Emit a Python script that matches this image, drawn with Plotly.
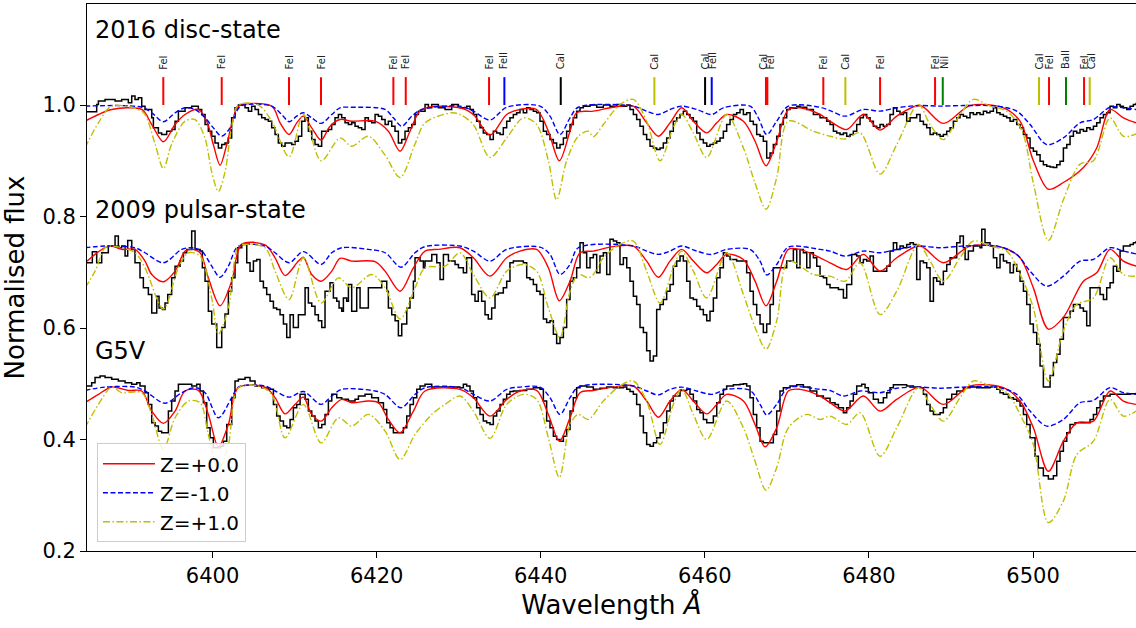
import plotly.graph_objects as go

# ---------------- line identifications ----------------
line_wl = [6394.00, 6401.12, 6409.32, 6413.22, 6422.04, 6423.55, 6433.70, 6435.57,
           6442.44, 6453.85, 6460.03, 6460.84, 6467.45, 6467.62, 6474.44, 6477.13,
           6481.36, 6488.06, 6489.00, 6500.73, 6501.95, 6504.02, 6506.22, 6506.91]
line_color = ["#ff0000", "#ff0000", "#ff0000", "#ff0000", "#ff0000", "#ff0000", "#ff0000", "#0000ff",
              "#000000", "#bfbf00", "#000000", "#0000ff", "#ff0000", "#ff0000", "#ff0000", "#bfbf00",
              "#ff0000", "#ff0000", "#008000", "#bfbf00", "#ff0000", "#008000", "#ff0000", "#bfbf00"]
label_wl = [6394.00, 6401.12, 6409.32, 6413.22, 6422.04, 6423.55, 6433.70, 6435.57,
            6442.44, 6453.85, 6460.03, 6461.04, 6467.13, 6467.95, 6474.44, 6477.13,
            6481.36, 6488.06, 6489.28, 6500.73, 6501.95, 6504.02, 6506.22, 6507.16]
label_text = ["FeI", "FeI", "FeI", "FeI", "FeI", "FeI", "FeI", "FeII",
              "CaI", "CaI", "CaI", "FeII", "CaI", "FeI", "FeI", "CaI",
              "FeI", "FeI", "NiI", "CaI", "FeI", "BaII", "FeI", "CaI"]
line_bottom = 1.0
line_top = 1.05
label_y = 1.062

# ---------------- spectrum titles ----------------
panel_names = ["2016 disc-state", "2009 pulsar-state", "G5V"]
panel_label_y = [1.134, 0.812, 0.559]

# ---------------- observed spectra (step) ----------------
disc_obs = [
    (6384.70, 0.988), (6385.88, 1.001), (6386.09, 1.007), (6386.90, 1.010), (6388.12, 1.007), (6388.93, 1.010),
    (6389.74, 1.004), (6390.15, 1.016), (6390.55, 1.010), (6390.96, 1.013), (6391.37, 0.998), (6391.77, 0.992),
    (6392.59, 0.977), (6392.79, 0.959), (6393.40, 0.950), (6393.80, 0.947), (6394.41, 0.953), (6395.02, 0.956),
    (6395.43, 0.971), (6395.84, 0.989), (6396.65, 0.995), (6397.46, 0.998), (6398.27, 0.992), (6398.68, 0.983),
    (6399.09, 0.965), (6399.49, 0.953), (6399.90, 0.944), (6400.30, 0.932), (6400.71, 0.923), (6401.12, 0.929),
    (6401.52, 0.932), (6401.93, 0.941), (6402.33, 0.977), (6402.74, 0.995), (6403.15, 1.000), (6403.55, 1.001),
    (6403.96, 0.995), (6404.37, 0.989), (6404.77, 0.998), (6405.18, 0.992), (6405.59, 0.983), (6405.99, 0.977),
    (6406.40, 0.974), (6406.80, 0.971), (6407.21, 0.959), (6407.62, 0.947), (6408.02, 0.932), (6408.43, 0.926),
    (6408.84, 0.932), (6409.65, 0.929), (6410.05, 0.935), (6410.46, 0.944), (6410.87, 0.971), (6411.27, 0.977),
    (6411.68, 0.953), (6412.09, 0.938), (6412.49, 0.929), (6412.90, 0.926), (6413.30, 0.953), (6414.12, 0.956),
    (6414.52, 0.965), (6414.93, 0.977), (6415.34, 0.983), (6415.74, 0.977), (6416.15, 0.968), (6416.56, 0.965),
    (6416.96, 0.968), (6417.37, 0.962), (6417.77, 0.959), (6418.18, 0.956), (6418.59, 0.977), (6418.99, 0.971),
    (6419.40, 0.968), (6419.81, 0.983), (6420.21, 0.980), (6420.62, 0.974), (6421.03, 0.965), (6421.43, 0.971),
    (6421.84, 0.962), (6422.24, 0.953), (6422.65, 0.932), (6423.06, 0.938), (6423.46, 0.953), (6423.87, 0.959),
    (6424.28, 0.965), (6424.68, 0.983), (6425.09, 0.989), (6425.90, 1.001), (6426.31, 0.995), (6426.71, 1.001),
    (6427.52, 0.995), (6428.34, 0.992), (6429.15, 1.001), (6429.96, 0.996),
    (6430.16, 0.995), (6430.97, 0.998), (6431.38, 0.992), (6431.79, 0.983), (6432.19, 0.971), (6432.60, 0.959),
    (6433.00, 0.950), (6433.41, 0.947), (6433.82, 0.938), (6434.22, 0.953), (6434.63, 0.950), (6435.04, 0.947),
    (6435.44, 0.959), (6435.85, 0.971), (6436.25, 0.977), (6436.66, 0.983), (6437.07, 0.986), (6437.47, 0.992),
    (6437.88, 0.986), (6438.29, 0.995), (6438.69, 0.992), (6439.10, 0.989), (6439.50, 0.986), (6439.91, 0.971),
    (6440.32, 0.953), (6440.72, 0.947), (6441.13, 0.938), (6441.54, 0.932), (6441.94, 0.923), (6442.35, 0.929),
    (6442.76, 0.941), (6443.16, 0.953), (6443.57, 0.965), (6443.97, 0.977), (6444.38, 0.989), (6444.79, 0.995),
    (6445.19, 0.998), (6446.01, 1.000), (6446.82, 0.996), (6447.63, 1.000), (6448.44, 0.998), (6449.26, 1.001),
    (6449.66, 0.998), (6450.48, 1.000), (6450.88, 0.992), (6451.29, 0.983), (6451.69, 0.974), (6452.10, 0.962),
    (6452.51, 0.947), (6452.91, 0.938), (6453.32, 0.926), (6453.73, 0.923), (6454.13, 0.920), (6454.54, 0.923),
    (6454.94, 0.932), (6455.35, 0.941), (6455.76, 0.953), (6456.16, 0.971), (6456.57, 0.977), (6456.98, 0.983),
    (6457.38, 0.989), (6457.79, 0.983), (6458.19, 0.977), (6458.60, 0.971), (6459.01, 0.950), (6459.41, 0.938),
    (6459.82, 0.932), (6460.23, 0.926), (6460.63, 0.929), (6461.04, 0.932), (6461.45, 0.935), (6461.85, 0.941),
    (6462.26, 0.953), (6462.66, 0.965), (6463.07, 0.974), (6463.48, 0.983), (6463.88, 0.986), (6464.29, 0.992),
    (6464.70, 0.983), (6465.10, 0.986), (6465.51, 0.971), (6465.91, 0.965), (6466.32, 0.947), (6466.73, 0.944),
    (6467.13, 0.935), (6467.54, 0.905), (6467.95, 0.914), (6468.35, 0.929), (6468.76, 0.944), (6469.16, 0.965),
    (6469.57, 0.977), (6469.98, 0.992), (6470.38, 0.995), (6470.79, 0.994), (6471.20, 0.998), (6471.60, 0.996),
    (6472.42, 0.992), (6473.23, 0.983), (6474.04, 0.977), (6474.85, 0.971),
    (6475.26, 0.965), (6475.67, 0.953), (6476.07, 0.950), (6476.48, 0.947), (6476.89, 0.950), (6477.29, 0.944),
    (6477.70, 0.947), (6478.10, 0.953), (6478.51, 0.965), (6478.92, 0.977), (6479.32, 0.983), (6479.73, 0.977),
    (6480.14, 0.971), (6480.54, 0.962), (6480.95, 0.959), (6481.35, 0.965), (6481.76, 0.962), (6482.17, 0.965),
    (6482.57, 0.983), (6482.98, 0.995), (6483.39, 0.989), (6483.79, 0.983), (6484.20, 0.986), (6484.60, 0.971),
    (6485.01, 0.977), (6485.82, 0.983), (6486.23, 0.971), (6486.64, 0.965), (6487.04, 0.959), (6487.45, 0.947),
    (6487.85, 0.950), (6488.26, 0.947), (6488.67, 0.944), (6489.07, 0.947), (6489.48, 0.953), (6489.89, 0.959),
    (6490.29, 0.971), (6490.70, 0.977), (6491.10, 0.983), (6491.51, 0.980), (6491.92, 0.977), (6492.32, 0.986),
    (6492.73, 0.983), (6493.14, 0.986), (6493.54, 0.983), (6493.95, 0.989), (6494.36, 0.986), (6494.76, 0.989),
    (6495.17, 0.995), (6495.57, 0.986), (6495.98, 0.983), (6496.39, 0.980), (6496.79, 0.977), (6497.20, 0.971),
    (6497.61, 0.974), (6498.01, 0.965), (6498.42, 0.959), (6498.83, 0.947), (6499.23, 0.941), (6499.64, 0.923),
    (6500.04, 0.917), (6500.45, 0.911), (6500.86, 0.899), (6501.26, 0.893), (6501.67, 0.890), (6502.08, 0.889),
    (6502.48, 0.888), (6502.89, 0.893), (6503.29, 0.899), (6503.70, 0.923), (6504.11, 0.929), (6504.51, 0.944),
    (6504.92, 0.953), (6505.33, 0.950), (6505.73, 0.956), (6506.14, 0.953), (6506.54, 0.959), (6506.95, 0.956),
    (6507.36, 0.962), (6507.76, 0.968), (6508.17, 0.977), (6508.58, 0.983), (6508.98, 0.986), (6509.39, 0.998),
    (6509.79, 0.995), (6510.20, 1.001), (6510.61, 0.998), (6511.01, 0.995), (6511.42, 0.992), (6511.83, 0.998),
    (6512.23, 1.001), (6512.56, 1.004),
]

pulsar_obs = [
    (6384.70, 0.717), (6385.35, 0.737), (6385.88, 0.717), (6386.49, 0.735), (6387.30, 0.747), (6388.12, 0.765),
    (6388.52, 0.744), (6388.93, 0.747), (6389.34, 0.729), (6389.66, 0.757), (6390.15, 0.741), (6390.55, 0.717),
    (6391.16, 0.690), (6391.57, 0.672), (6392.18, 0.660), (6392.59, 0.627), (6393.20, 0.657), (6393.48, 0.636),
    (6393.89, 0.633), (6394.21, 0.645), (6394.54, 0.660), (6395.02, 0.690), (6395.43, 0.711), (6396.04, 0.720),
    (6396.45, 0.735), (6396.85, 0.741), (6397.46, 0.774), (6397.87, 0.741), (6398.48, 0.738), (6398.76, 0.708),
    (6399.09, 0.684), (6399.49, 0.630), (6399.90, 0.607), (6400.51, 0.565), (6401.12, 0.601), (6401.52, 0.625),
    (6401.93, 0.666), (6402.33, 0.690), (6402.74, 0.717), (6403.07, 0.744), (6403.56, 0.750), (6404.17, 0.717),
    (6404.57, 0.702), (6404.98, 0.720), (6405.38, 0.723), (6405.79, 0.684), (6406.20, 0.672), (6406.60, 0.660),
    (6407.01, 0.648), (6407.42, 0.636), (6407.82, 0.633), (6408.23, 0.624), (6408.64, 0.607), (6409.04, 0.583),
    (6409.45, 0.624), (6409.85, 0.601), (6410.46, 0.624), (6411.28, 0.672), (6411.68, 0.645), (6412.09, 0.639),
    (6412.49, 0.624), (6412.90, 0.613), (6413.31, 0.601), (6413.71, 0.666), (6414.32, 0.681), (6414.73, 0.654),
    (6415.14, 0.648), (6415.42, 0.636), (6415.75, 0.630), (6415.95, 0.654), (6416.35, 0.648), (6416.56, 0.678),
    (6416.96, 0.630), (6417.57, 0.672), (6417.98, 0.636), (6418.99, 0.672), (6420.62, 0.684), (6421.23, 0.666),
    (6421.43, 0.636), (6421.84, 0.624), (6422.25, 0.613), (6422.65, 0.586), (6423.06, 0.607), (6423.67, 0.636),
    (6424.07, 0.654), (6424.48, 0.684), (6424.68, 0.726), (6425.29, 0.720), (6425.70, 0.708), (6425.90, 0.720),
    (6426.72, 0.732), (6427.33, 0.717), (6427.73, 0.687), (6428.14, 0.732), (6428.75, 0.720), (6429.56, 0.714),
    (6429.97, 0.708),
    (6430.16, 0.708), (6430.57, 0.699), (6430.97, 0.726), (6431.58, 0.660), (6431.99, 0.648), (6432.39, 0.666),
    (6432.80, 0.648), (6433.21, 0.624), (6433.61, 0.616), (6434.02, 0.636), (6434.43, 0.660), (6434.83, 0.663),
    (6435.44, 0.672), (6435.85, 0.684), (6436.25, 0.717), (6436.66, 0.720), (6437.88, 0.717), (6438.29, 0.690),
    (6438.69, 0.687), (6439.10, 0.678), (6439.50, 0.666), (6439.91, 0.660), (6440.32, 0.616), (6440.72, 0.610),
    (6441.13, 0.613), (6441.54, 0.589), (6441.94, 0.572), (6442.35, 0.583), (6442.76, 0.601), (6443.16, 0.651),
    (6443.57, 0.684), (6443.97, 0.690), (6444.38, 0.708), (6444.79, 0.753), (6445.19, 0.735), (6445.60, 0.708),
    (6446.01, 0.726), (6446.41, 0.732), (6446.82, 0.699), (6447.22, 0.729), (6447.63, 0.735), (6448.04, 0.696),
    (6448.44, 0.759), (6448.85, 0.756), (6449.26, 0.753), (6449.66, 0.714), (6450.07, 0.726), (6450.48, 0.708),
    (6450.88, 0.684), (6451.29, 0.657), (6451.69, 0.642), (6452.10, 0.601), (6452.51, 0.592), (6452.91, 0.559),
    (6453.32, 0.541), (6453.73, 0.550), (6454.13, 0.633), (6454.54, 0.642), (6454.94, 0.651), (6455.35, 0.666),
    (6455.76, 0.678), (6456.16, 0.711), (6456.57, 0.720), (6456.98, 0.729), (6457.38, 0.720), (6457.79, 0.684),
    (6458.19, 0.654), (6458.60, 0.651), (6459.01, 0.639), (6459.41, 0.633), (6459.82, 0.624), (6460.23, 0.613),
    (6460.63, 0.630), (6461.04, 0.654), (6461.45, 0.690), (6461.85, 0.708), (6462.26, 0.735), (6462.66, 0.729),
    (6463.07, 0.723), (6463.88, 0.720), (6465.10, 0.699), (6465.51, 0.666), (6465.91, 0.642), (6466.32, 0.624),
    (6466.73, 0.607), (6467.13, 0.592), (6467.54, 0.607), (6467.95, 0.642), (6468.35, 0.708), (6469.98, 0.720),
    (6470.79, 0.741), (6471.20, 0.708), (6471.60, 0.741), (6472.01, 0.735), (6472.42, 0.708), (6472.82, 0.735),
    (6473.23, 0.726), (6473.64, 0.711), (6474.04, 0.693), (6474.45, 0.690), (6474.85, 0.678),
    (6475.26, 0.672), (6476.28, 0.669), (6476.89, 0.654), (6477.29, 0.678), (6477.90, 0.732), (6478.51, 0.729),
    (6478.92, 0.717), (6479.32, 0.723), (6479.73, 0.720), (6480.14, 0.729), (6480.54, 0.702), (6482.17, 0.711),
    (6482.57, 0.738), (6482.98, 0.753), (6483.39, 0.741), (6483.79, 0.747), (6484.20, 0.744), (6484.60, 0.750),
    (6485.01, 0.753), (6485.42, 0.750), (6485.82, 0.687), (6486.23, 0.720), (6486.64, 0.717), (6487.04, 0.708),
    (6487.45, 0.648), (6487.86, 0.690), (6488.26, 0.684), (6488.67, 0.678), (6489.07, 0.702), (6489.48, 0.714),
    (6489.89, 0.726), (6490.70, 0.753), (6491.10, 0.765), (6491.51, 0.744), (6491.72, 0.723), (6492.12, 0.738),
    (6492.73, 0.747), (6493.54, 0.744), (6493.75, 0.777), (6494.15, 0.753), (6494.76, 0.747), (6495.17, 0.726),
    (6495.58, 0.708), (6495.98, 0.732), (6496.39, 0.720), (6496.79, 0.717), (6497.20, 0.699), (6497.61, 0.714),
    (6498.01, 0.702), (6498.42, 0.684), (6498.83, 0.666), (6499.23, 0.642), (6499.64, 0.607), (6500.04, 0.592),
    (6500.45, 0.571), (6500.86, 0.532), (6501.26, 0.494), (6502.08, 0.515), (6502.48, 0.538), (6502.89, 0.553),
    (6503.29, 0.580), (6503.70, 0.619), (6504.51, 0.630), (6504.92, 0.642), (6505.73, 0.636), (6506.14, 0.630),
    (6506.54, 0.604), (6506.95, 0.672), (6508.17, 0.660), (6508.58, 0.651), (6508.98, 0.672), (6509.39, 0.681),
    (6509.79, 0.711), (6510.20, 0.702), (6510.61, 0.738), (6511.01, 0.747), (6511.83, 0.750), (6512.23, 0.753),
    (6512.56, 0.756),
]

g5v_obs = [
    (6384.70, 0.496), (6385.27, 0.502), (6385.68, 0.511), (6386.29, 0.514), (6386.90, 0.511), (6387.71, 0.508),
    (6388.52, 0.505), (6389.34, 0.502), (6390.15, 0.499), (6390.76, 0.502), (6391.16, 0.496), (6391.77, 0.484),
    (6392.18, 0.463), (6392.59, 0.430), (6392.99, 0.424), (6393.40, 0.415), (6393.80, 0.412), (6394.62, 0.451),
    (6395.02, 0.469), (6395.43, 0.487), (6395.84, 0.499), (6397.46, 0.496), (6398.07, 0.499), (6398.48, 0.487),
    (6398.88, 0.466), (6399.29, 0.421), (6399.70, 0.403), (6400.10, 0.385), (6400.92, 0.388), (6401.32, 0.397),
    (6401.73, 0.427), (6402.34, 0.475), (6402.74, 0.505), (6403.15, 0.508), (6403.96, 0.511), (6404.57, 0.505),
    (6405.18, 0.496), (6405.99, 0.493), (6406.81, 0.490), (6407.42, 0.463), (6407.82, 0.442), (6408.23, 0.433),
    (6408.64, 0.424), (6409.04, 0.421), (6409.45, 0.436), (6409.85, 0.457), (6410.26, 0.463), (6410.67, 0.481),
    (6411.28, 0.472), (6411.68, 0.451), (6412.09, 0.442), (6412.49, 0.433), (6412.90, 0.421), (6413.31, 0.427),
    (6413.71, 0.445), (6414.12, 0.469), (6414.53, 0.481), (6415.14, 0.475), (6415.75, 0.472), (6416.56, 0.469),
    (6417.37, 0.472), (6417.78, 0.478), (6418.59, 0.481), (6419.40, 0.475), (6420.22, 0.466), (6420.83, 0.454),
    (6421.23, 0.430), (6421.64, 0.421), (6422.04, 0.412), (6423.26, 0.421), (6423.67, 0.442), (6424.07, 0.463),
    (6424.48, 0.475), (6424.89, 0.490), (6425.29, 0.496), (6425.90, 0.499), (6426.72, 0.494),
    (6430.16, 0.493), (6430.57, 0.499), (6430.97, 0.496), (6431.38, 0.487), (6431.79, 0.475), (6432.19, 0.457),
    (6432.60, 0.445), (6433.00, 0.433), (6433.41, 0.430), (6433.82, 0.427), (6434.22, 0.442), (6434.63, 0.451),
    (6435.04, 0.463), (6435.44, 0.472), (6435.85, 0.481), (6436.25, 0.486), (6436.66, 0.487), (6437.47, 0.488),
    (6438.29, 0.490), (6439.10, 0.493), (6439.91, 0.490), (6440.32, 0.469), (6440.72, 0.433), (6441.13, 0.421),
    (6441.54, 0.406), (6441.94, 0.400), (6442.35, 0.397), (6442.76, 0.406), (6443.16, 0.418), (6443.57, 0.451),
    (6443.97, 0.475), (6444.38, 0.493), (6444.79, 0.496), (6445.60, 0.494), (6446.41, 0.490), (6447.22, 0.492),
    (6448.04, 0.494), (6448.85, 0.493), (6450.07, 0.494), (6450.48, 0.490), (6450.88, 0.486), (6451.29, 0.481),
    (6451.69, 0.463), (6452.10, 0.442), (6452.51, 0.412), (6452.91, 0.391), (6453.32, 0.388), (6453.73, 0.394),
    (6454.13, 0.403), (6454.54, 0.412), (6454.94, 0.430), (6455.35, 0.451), (6455.76, 0.469), (6456.16, 0.478),
    (6456.98, 0.488), (6457.79, 0.490), (6458.19, 0.481), (6458.60, 0.469), (6459.01, 0.454), (6459.41, 0.448),
    (6459.82, 0.436), (6460.23, 0.430), (6461.04, 0.442), (6461.45, 0.466), (6461.85, 0.481), (6462.26, 0.490),
    (6462.66, 0.496), (6463.48, 0.498), (6464.29, 0.499), (6464.70, 0.500), (6465.10, 0.496), (6465.51, 0.475),
    (6465.91, 0.445), (6466.32, 0.421), (6466.73, 0.397), (6467.13, 0.394), (6468.35, 0.409), (6468.76, 0.451),
    (6469.16, 0.487), (6469.57, 0.493), (6470.38, 0.496), (6471.20, 0.498), (6472.01, 0.494), (6472.82, 0.487),
    (6473.64, 0.478), (6474.45, 0.474),
    (6475.26, 0.466), (6475.87, 0.463), (6476.28, 0.457), (6476.89, 0.448), (6477.29, 0.457), (6477.70, 0.469),
    (6478.10, 0.481), (6478.51, 0.496), (6479.12, 0.499), (6479.53, 0.493), (6479.93, 0.484), (6480.54, 0.472),
    (6481.15, 0.466), (6481.76, 0.475), (6482.17, 0.484), (6482.57, 0.493), (6482.98, 0.498), (6484.60, 0.496),
    (6485.42, 0.494), (6486.23, 0.493), (6486.64, 0.481), (6487.04, 0.463), (6487.45, 0.451), (6487.86, 0.445),
    (6488.67, 0.448), (6489.07, 0.457), (6489.48, 0.472), (6490.09, 0.481), (6490.70, 0.487), (6491.51, 0.493),
    (6492.32, 0.494), (6493.14, 0.493), (6494.76, 0.494), (6495.58, 0.490), (6495.98, 0.484), (6496.39, 0.481),
    (6497.00, 0.475), (6497.61, 0.472), (6498.01, 0.469), (6498.42, 0.460), (6498.83, 0.445), (6499.23, 0.427),
    (6499.64, 0.403), (6500.25, 0.370), (6500.65, 0.349), (6501.26, 0.335), (6501.87, 0.329), (6502.48, 0.335),
    (6502.89, 0.361), (6503.29, 0.379), (6503.70, 0.397), (6504.11, 0.412), (6504.51, 0.427), (6505.12, 0.430),
    (6506.95, 0.436), (6507.36, 0.445), (6507.76, 0.457), (6508.17, 0.469), (6508.58, 0.478), (6509.39, 0.481),
    (6511.83, 0.482), (6512.56, 0.484),
]

# ---------------- model spectra (smooth) ----------------
disc_z0 = [
    (6384.46, 0.971), (6386.09, 0.983), (6387.71, 0.992), (6391.37, 0.992), (6392.59, 0.965), (6394.01, 0.934),
    (6395.43, 0.965), (6396.65, 0.983), (6398.27, 0.992), (6399.29, 0.971), (6400.10, 0.929), (6400.92, 0.892),
    (6401.73, 0.929), (6402.54, 0.977), (6403.15, 0.998), (6407.21, 0.998), (6408.23, 0.968), (6409.33, 0.947),
    (6410.26, 0.968), (6411.07, 0.980), (6412.09, 0.959), (6413.23, 0.937), (6414.32, 0.962), (6415.54, 0.974),
    (6416.96, 0.971), (6419.81, 0.971), (6421.43, 0.953), (6422.86, 0.917), (6424.07, 0.953), (6425.50, 0.992),
    (6430.16, 0.995), (6431.79, 0.983), (6433.82, 0.946), (6435.85, 0.983), (6437.47, 0.992), (6439.50, 0.992),
    (6440.93, 0.953), (6442.27, 0.900), (6443.57, 0.953), (6444.38, 0.986), (6446.41, 0.989), (6448.85, 0.996),
    (6451.29, 0.998), (6452.91, 0.968), (6454.33, 0.944), (6455.76, 0.968), (6457.18, 0.995), (6458.60, 0.971),
    (6460.23, 0.950), (6461.45, 0.968), (6462.66, 0.983), (6464.70, 0.971), (6466.12, 0.935), (6467.46, 0.891),
    (6468.76, 0.935), (6470.18, 0.992), (6471.60, 0.995), (6474.04, 0.983),
    (6475.26, 0.971), (6477.29, 0.956), (6479.32, 0.983), (6481.35, 0.955), (6483.39, 0.980), (6486.23, 0.999),
    (6489.07, 0.967), (6492.32, 0.999), (6496.39, 0.995), (6498.42, 0.971), (6500.04, 0.900), (6501.87, 0.849),
    (6503.70, 0.861), (6506.14, 0.888), (6507.76, 0.923), (6509.39, 0.992), (6511.01, 0.977), (6512.56, 0.968),
]
disc_zm1 = [
    (6384.46, 0.998), (6391.37, 0.996), (6392.59, 0.986), (6394.01, 0.970), (6395.43, 0.986), (6396.65, 0.995),
    (6397.87, 0.992), (6399.09, 0.977), (6400.10, 0.959), (6401.12, 0.944), (6402.13, 0.959), (6402.95, 0.989),
    (6403.55, 0.999), (6407.21, 0.998), (6408.43, 0.983), (6409.33, 0.970), (6410.26, 0.980), (6411.07, 0.986),
    (6412.09, 0.977), (6413.23, 0.967), (6414.53, 0.983), (6415.54, 0.995), (6416.96, 0.996), (6421.03, 0.992),
    (6422.04, 0.977), (6423.06, 0.962), (6424.28, 0.980), (6425.50, 0.992),
    (6430.16, 0.998), (6431.79, 0.989), (6433.82, 0.973), (6435.85, 0.996), (6439.91, 0.998), (6441.13, 0.980),
    (6442.35, 0.947), (6443.57, 0.977), (6444.58, 0.996), (6451.29, 0.998), (6452.91, 0.989), (6454.33, 0.983),
    (6455.76, 0.992), (6457.18, 0.998), (6459.01, 0.992), (6460.84, 0.983), (6462.26, 0.995), (6465.51, 0.998),
    (6466.52, 0.977), (6467.54, 0.947), (6468.76, 0.971), (6470.18, 0.998), (6474.04, 0.996),
    (6475.26, 0.990), (6477.09, 0.980), (6479.32, 0.992), (6481.35, 0.989), (6483.39, 0.995), (6486.03, 0.999),
    (6488.67, 0.998), (6491.51, 0.999), (6495.57, 0.998), (6498.01, 0.989), (6499.64, 0.965), (6501.67, 0.929),
    (6503.70, 0.941), (6505.73, 0.968), (6507.36, 0.974), (6509.39, 0.996), (6511.01, 0.995), (6512.56, 0.992),
]
disc_zp1 = [
    (6384.46, 0.923), (6386.09, 0.968), (6387.71, 0.998), (6390.96, 0.992), (6391.77, 0.983), (6393.00, 0.930),
    (6394.01, 0.886), (6395.02, 0.930), (6396.65, 0.971), (6397.87, 0.974), (6399.09, 0.940), (6399.90, 0.880),
    (6400.71, 0.845), (6401.52, 0.880), (6402.33, 0.960), (6403.15, 1.000), (6405.59, 1.000), (6407.21, 0.971),
    (6409.33, 0.907), (6411.07, 0.983), (6413.23, 0.900), (6415.54, 0.941), (6416.96, 0.926), (6418.99, 0.944),
    (6421.03, 0.910), (6422.86, 0.870), (6424.68, 0.930), (6425.90, 0.968), (6429.15, 0.986),
    (6430.16, 0.983), (6431.79, 0.965), (6433.82, 0.906), (6435.85, 0.941), (6437.88, 0.977), (6439.50, 0.965),
    (6440.93, 0.900), (6441.94, 0.830), (6443.16, 0.900), (6444.58, 0.944), (6445.80, 0.953), (6446.41, 0.943),
    (6447.63, 0.965), (6449.66, 1.001), (6451.29, 1.010), (6452.91, 0.971), (6454.54, 0.900), (6456.16, 0.960),
    (6457.18, 0.983), (6458.60, 0.950), (6460.23, 0.906), (6462.66, 0.983), (6464.70, 0.923), (6466.12, 0.860),
    (6467.46, 0.813), (6468.76, 0.870), (6470.18, 0.971), (6473.23, 0.953),
    (6475.26, 0.944), (6477.09, 0.939), (6478.92, 0.950), (6481.35, 0.876), (6483.39, 0.929), (6486.03, 1.001),
    (6487.45, 0.965), (6489.07, 0.938), (6491.10, 0.983), (6492.73, 1.010), (6494.76, 0.998), (6496.79, 0.989),
    (6498.62, 0.955), (6500.04, 0.860), (6501.87, 0.757), (6503.70, 0.830), (6505.73, 0.894), (6507.36, 0.900),
    (6509.39, 0.977), (6511.01, 0.944), (6512.56, 0.948),
]

pulsar_z0 = [
    (6384.46, 0.717), (6385.68, 0.732), (6386.90, 0.744), (6387.71, 0.747), (6388.93, 0.741), (6390.55, 0.741),
    (6391.77, 0.720), (6392.59, 0.696), (6394.01, 0.683), (6395.43, 0.702), (6396.65, 0.738), (6397.46, 0.741),
    (6398.48, 0.735), (6399.49, 0.690), (6400.92, 0.640), (6402.34, 0.684), (6403.56, 0.750), (6406.40, 0.749),
    (6407.62, 0.726), (6408.84, 0.694), (6410.46, 0.720), (6411.07, 0.727), (6412.09, 0.696), (6413.23, 0.684),
    (6414.53, 0.702), (6415.54, 0.725), (6416.96, 0.720), (6419.81, 0.719), (6421.03, 0.702), (6422.86, 0.666),
    (6424.48, 0.708), (6425.90, 0.738), (6427.53, 0.741),
    (6430.16, 0.744), (6431.79, 0.726), (6433.82, 0.693), (6435.85, 0.726), (6437.47, 0.738), (6439.50, 0.741),
    (6440.93, 0.708), (6442.27, 0.649), (6443.57, 0.684), (6444.79, 0.735), (6446.41, 0.738), (6448.85, 0.746),
    (6451.29, 0.747), (6452.91, 0.720), (6454.33, 0.691), (6455.76, 0.720), (6457.18, 0.741), (6458.60, 0.720),
    (6460.23, 0.699), (6461.45, 0.714), (6462.66, 0.732), (6464.70, 0.723), (6466.12, 0.684), (6467.46, 0.640),
    (6468.76, 0.684), (6470.18, 0.741), (6471.60, 0.741), (6474.04, 0.726),
    (6475.26, 0.717), (6477.29, 0.705), (6479.32, 0.732), (6481.35, 0.702), (6483.39, 0.726), (6486.23, 0.747),
    (6489.07, 0.717), (6492.32, 0.747), (6496.39, 0.744), (6498.42, 0.726), (6500.04, 0.672), (6501.87, 0.598),
    (6503.70, 0.619), (6506.14, 0.684), (6507.76, 0.699), (6509.39, 0.741), (6511.01, 0.720), (6512.56, 0.711),
]
pulsar_zm1 = [
    (6384.46, 0.744), (6386.90, 0.747), (6390.55, 0.744), (6391.77, 0.735), (6394.01, 0.717), (6396.24, 0.741),
    (6397.46, 0.744), (6398.68, 0.738), (6399.90, 0.711), (6400.92, 0.691), (6401.93, 0.711), (6403.15, 0.747),
    (6406.40, 0.747), (6407.62, 0.735), (6409.33, 0.717), (6411.07, 0.737), (6413.23, 0.714), (6414.53, 0.735),
    (6415.75, 0.744), (6419.00, 0.741), (6421.03, 0.735), (6422.98, 0.709), (6424.68, 0.735), (6425.90, 0.746),
    (6430.16, 0.747), (6431.79, 0.738), (6433.82, 0.720), (6435.85, 0.741), (6439.91, 0.745), (6441.13, 0.732),
    (6442.35, 0.696), (6443.57, 0.714), (6444.58, 0.744), (6451.29, 0.747), (6452.91, 0.738), (6454.33, 0.732),
    (6455.76, 0.738), (6457.18, 0.747), (6459.01, 0.738), (6460.84, 0.732), (6462.66, 0.741), (6465.51, 0.741),
    (6466.73, 0.720), (6467.54, 0.695), (6468.76, 0.714), (6470.18, 0.745), (6474.04, 0.741),
    (6475.26, 0.738), (6477.09, 0.729), (6479.32, 0.738), (6481.35, 0.735), (6483.39, 0.741), (6486.03, 0.747),
    (6488.67, 0.744), (6491.51, 0.747), (6495.58, 0.747), (6498.01, 0.732), (6499.64, 0.702), (6501.67, 0.675),
    (6503.70, 0.693), (6505.73, 0.720), (6507.36, 0.723), (6509.39, 0.744), (6511.01, 0.738), (6512.56, 0.733),
]
pulsar_zp1 = [
    (6384.46, 0.672), (6385.68, 0.702), (6386.90, 0.744), (6387.71, 0.747), (6390.55, 0.735), (6391.77, 0.708),
    (6394.01, 0.634), (6395.84, 0.708), (6397.06, 0.735), (6398.48, 0.729), (6399.90, 0.654), (6400.71, 0.589),
    (6401.93, 0.636), (6403.15, 0.747), (6403.96, 0.750), (6406.40, 0.744), (6407.62, 0.702), (6409.33, 0.651),
    (6411.07, 0.726), (6413.23, 0.645), (6415.34, 0.690), (6416.96, 0.672), (6419.40, 0.696), (6421.03, 0.672),
    (6422.86, 0.616), (6424.68, 0.672), (6425.90, 0.708), (6428.34, 0.711),
    (6430.16, 0.735), (6431.79, 0.696), (6433.82, 0.654), (6435.85, 0.702), (6437.88, 0.714), (6439.50, 0.702),
    (6440.93, 0.636), (6442.35, 0.583), (6443.57, 0.666), (6444.58, 0.696), (6445.80, 0.690), (6446.41, 0.696),
    (6447.63, 0.726), (6449.66, 0.750), (6451.29, 0.756), (6452.91, 0.702), (6454.54, 0.645), (6456.16, 0.708),
    (6457.18, 0.738), (6458.60, 0.702), (6460.23, 0.654), (6462.66, 0.735), (6464.70, 0.660), (6466.12, 0.601),
    (6467.46, 0.562), (6468.76, 0.613), (6470.18, 0.720), (6473.23, 0.696),
    (6475.26, 0.693), (6477.09, 0.684), (6478.92, 0.717), (6481.35, 0.624), (6483.39, 0.666), (6486.03, 0.750),
    (6487.45, 0.720), (6489.07, 0.684), (6491.10, 0.726), (6492.73, 0.756), (6494.76, 0.747), (6496.79, 0.738),
    (6498.62, 0.690), (6500.04, 0.636), (6501.87, 0.505), (6503.70, 0.595), (6505.33, 0.642), (6507.36, 0.654),
    (6509.39, 0.726), (6511.01, 0.696), (6512.56, 0.693),
]

g5v_z0 = [
    (6384.46, 0.466), (6386.09, 0.481), (6387.71, 0.494), (6389.74, 0.488), (6391.37, 0.487), (6392.59, 0.451),
    (6394.01, 0.429), (6395.43, 0.451), (6396.65, 0.487), (6398.27, 0.488), (6399.49, 0.445), (6400.71, 0.387),
    (6401.93, 0.427), (6403.15, 0.493), (6406.40, 0.494), (6407.62, 0.475), (6408.84, 0.446), (6410.06, 0.463),
    (6411.07, 0.476), (6412.09, 0.445), (6413.23, 0.433), (6414.53, 0.457), (6415.75, 0.472), (6416.96, 0.466),
    (6419.00, 0.469), (6420.22, 0.466), (6421.43, 0.436), (6422.86, 0.412), (6424.48, 0.451), (6425.90, 0.487),
    (6430.16, 0.490), (6431.79, 0.475), (6433.82, 0.442), (6435.85, 0.472), (6437.47, 0.487), (6439.50, 0.488),
    (6440.93, 0.445), (6442.27, 0.397), (6443.57, 0.439), (6444.79, 0.484), (6446.41, 0.488), (6448.85, 0.494),
    (6451.29, 0.496), (6452.91, 0.469), (6454.33, 0.440), (6455.76, 0.469), (6457.18, 0.490), (6458.60, 0.469),
    (6460.23, 0.446), (6461.45, 0.463), (6462.66, 0.481), (6464.70, 0.469), (6466.12, 0.427), (6467.34, 0.387),
    (6468.76, 0.421), (6470.18, 0.487), (6471.60, 0.490), (6474.04, 0.478),
    (6475.26, 0.466), (6477.09, 0.451), (6479.32, 0.478), (6481.35, 0.451), (6483.39, 0.472), (6486.23, 0.494),
    (6489.07, 0.463), (6492.32, 0.496), (6496.39, 0.493), (6498.42, 0.469), (6500.04, 0.421), (6501.87, 0.343),
    (6503.70, 0.397), (6505.33, 0.430), (6507.36, 0.433), (6509.39, 0.487), (6511.01, 0.469), (6512.56, 0.463),
]
g5v_zm1 = [
    (6384.46, 0.488), (6386.90, 0.494), (6390.55, 0.494), (6391.77, 0.487), (6394.21, 0.465), (6396.24, 0.484),
    (6397.87, 0.493), (6399.09, 0.484), (6400.71, 0.439), (6402.34, 0.475), (6403.15, 0.494), (6406.40, 0.496),
    (6407.62, 0.487), (6409.33, 0.476), (6411.07, 0.486), (6413.23, 0.463), (6414.53, 0.478), (6415.75, 0.490),
    (6419.81, 0.487), (6421.03, 0.481), (6422.98, 0.457), (6424.68, 0.481), (6425.90, 0.493),
    (6430.16, 0.493), (6431.79, 0.481), (6433.82, 0.469), (6435.85, 0.490), (6437.47, 0.494), (6439.91, 0.494),
    (6441.13, 0.475), (6442.35, 0.445), (6443.57, 0.475), (6444.58, 0.494), (6451.29, 0.496), (6452.91, 0.487),
    (6454.33, 0.480), (6455.76, 0.490), (6457.18, 0.494), (6459.01, 0.487), (6460.84, 0.481), (6462.66, 0.490),
    (6465.51, 0.488), (6466.73, 0.463), (6467.54, 0.444), (6468.76, 0.463), (6470.18, 0.493), (6474.04, 0.490),
    (6475.26, 0.488), (6476.89, 0.478), (6478.92, 0.487), (6481.35, 0.484), (6483.39, 0.492), (6486.23, 0.494),
    (6488.67, 0.492), (6491.51, 0.494), (6495.58, 0.494), (6498.01, 0.481), (6499.64, 0.451), (6501.67, 0.424),
    (6503.70, 0.436), (6505.73, 0.466), (6507.36, 0.470), (6509.39, 0.493), (6511.01, 0.484), (6512.56, 0.481),
]
g5v_zp1 = [
    (6384.46, 0.421), (6386.09, 0.463), (6387.71, 0.494), (6388.93, 0.484), (6391.37, 0.484), (6392.59, 0.445),
    (6394.01, 0.382), (6395.43, 0.439), (6397.06, 0.469), (6398.48, 0.466), (6399.49, 0.409), (6400.71, 0.345),
    (6401.93, 0.391), (6403.15, 0.493), (6405.59, 0.496), (6407.21, 0.481), (6408.84, 0.403), (6411.07, 0.463),
    (6413.23, 0.394), (6415.34, 0.439), (6416.96, 0.424), (6419.00, 0.445), (6421.03, 0.415), (6422.86, 0.364),
    (6424.68, 0.409), (6426.72, 0.445), (6428.34, 0.463),
    (6430.16, 0.478), (6431.79, 0.451), (6433.82, 0.402), (6435.85, 0.463), (6437.88, 0.481), (6439.50, 0.472),
    (6440.93, 0.403), (6442.27, 0.332), (6443.57, 0.427), (6444.58, 0.445), (6445.80, 0.436), (6447.63, 0.469),
    (6449.66, 0.496), (6451.29, 0.505), (6452.91, 0.469), (6454.54, 0.391), (6456.16, 0.463), (6457.18, 0.490),
    (6458.60, 0.445), (6460.23, 0.400), (6462.66, 0.469), (6464.70, 0.421), (6466.12, 0.361), (6467.46, 0.309),
    (6468.76, 0.350), (6470.18, 0.421), (6472.42, 0.445), (6474.04, 0.436),
    (6475.26, 0.442), (6477.29, 0.427), (6478.92, 0.448), (6481.35, 0.370), (6483.39, 0.421), (6486.03, 0.493),
    (6487.45, 0.463), (6489.07, 0.433), (6491.10, 0.475), (6492.73, 0.505), (6494.76, 0.496), (6496.79, 0.484),
    (6498.62, 0.439), (6500.04, 0.391), (6501.87, 0.251), (6503.70, 0.290), (6505.33, 0.373), (6507.36, 0.397),
    (6509.39, 0.472), (6511.01, 0.442), (6512.56, 0.451),
]

# ---------------- figure ----------------
FONT = "DejaVu Sans"
RED, BLUE, OLIVE = "#ff0000", "#0000ff", "#bfbf00"

fig = go.Figure()


def unzip(pairs):
    return [p[0] for p in pairs], [p[1] for p in pairs]


for obs in (disc_obs, pulsar_obs, g5v_obs):
    x, y = unzip(obs)
    fig.add_trace(go.Scatter(x=x, y=y, mode="lines", showlegend=False, hoverinfo="skip",
                             line=dict(color="black", width=1.5, shape="hv")))

model_sets = [
    ("Z=+0.0", RED, "solid", (disc_z0, pulsar_z0, g5v_z0)),
    ("Z=-1.0", BLUE, "5px,2.5px", (disc_zm1, pulsar_zm1, g5v_zm1)),
    ("Z=+1.0", OLIVE, "7px,2.5px,1.5px,2.5px", (disc_zp1, pulsar_zp1, g5v_zp1)),
]
for name, col, dash, curves in model_sets:
    for i, cur in enumerate(curves):
        x, y = unzip(cur)
        fig.add_trace(go.Scatter(x=x, y=y, mode="lines", name=name, legendgroup=name,
                                 showlegend=(i == 0), hoverinfo="skip",
                                 line=dict(color=col, width=1.4, dash=dash, shape="spline", smoothing=0.9)))

# identification ticks, one trace per colour
for col in ["#ff0000", "#0000ff", "#000000", "#bfbf00", "#008000"]:
    xs, ys = [], []
    for wl, c in zip(line_wl, line_color):
        if c == col:
            xs += [wl, wl, None]
            ys += [line_bottom, line_top, None]
    fig.add_trace(go.Scatter(x=xs, y=ys, mode="lines", showlegend=False, hoverinfo="skip",
                             line=dict(color=col, width=2)))

for wl, txt in zip(label_wl, label_text):
    fig.add_annotation(x=wl, y=label_y, text=txt, showarrow=False, textangle=-90,
                       xanchor="center", yanchor="bottom", borderpad=0,
                       font=dict(family=FONT, size=10, color="#222222"))

for name, yv in zip(panel_names, panel_label_y):
    fig.add_annotation(x=6385.4, y=yv, text=name, showarrow=False, xanchor="left", yanchor="middle",
                       font=dict(family=FONT, size=24, color="black"))

fig.update_layout(
    width=1136, height=628,
    margin=dict(l=87, r=0, t=4, b=77, autoexpand=False),
    paper_bgcolor="white", plot_bgcolor="white",
    font=dict(family=FONT, color="black"),
    legend=dict(x=0.0095, y=0.016, xanchor="left", yanchor="bottom",
                bgcolor="rgba(255,255,255,0.85)", bordercolor="#cccccc", borderwidth=1,
                font=dict(family=FONT, size=20, color="black"), itemwidth=52,
                tracegroupgap=0),
    xaxis=dict(range=[6384.70, 6512.55], tickvals=[6400, 6420, 6440, 6460, 6480, 6500],
               ticks="outside", ticklen=6, tickwidth=1, tickcolor="black",
               showline=True, linecolor="black", linewidth=1, mirror=True,
               showgrid=False, zeroline=False, tickfont=dict(family=FONT, size=21),
               title=dict(text="Wavelength <i>Å</i>", font=dict(family=FONT, size=26), standoff=8)),
    yaxis=dict(range=[0.2, 1.1812], tickvals=[0.2, 0.4, 0.6, 0.8, 1.0],
               ticktext=["0.2", "0.4", "0.6", "0.8", "1.0"],
               ticks="outside", ticklen=6, tickwidth=1, tickcolor="black",
               showline=True, linecolor="black", linewidth=1, mirror=False,
               showgrid=False, zeroline=False, tickfont=dict(family=FONT, size=21),
               title=dict(text="Normalised flux", font=dict(family=FONT, size=26), standoff=10)),
)

fig.write_html("out.html")
